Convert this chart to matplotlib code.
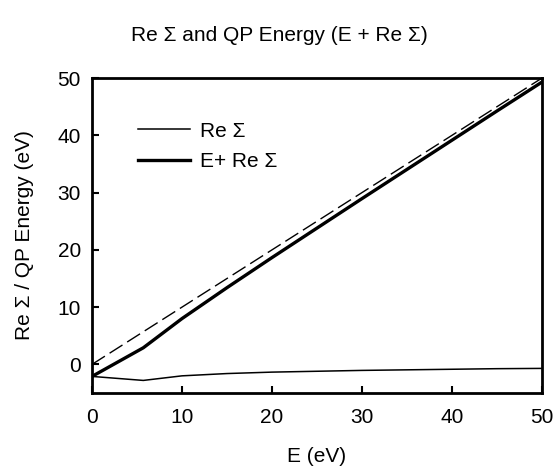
import matplotlib
matplotlib.use("Agg")
import matplotlib.pyplot as plt

# values
energy = [0, 5.7, 10, 15, 20, 25, 30, 35, 40, 45, 50]
re_sigma = [-2.1, -2.8, -2.0, -1.6, -1.35, -1.2, -1.05, -0.95, -0.85, -0.75, -0.7]
qp_energy = [-2.1, 2.9, 8.0, 13.4, 18.65, 23.8, 28.95, 34.05, 39.15, 44.25, 49.3]
diag = [0, 50]

plt.rcParams['font.family'] = ['Liberation Sans', 'DejaVu Sans']

fig = plt.figure(figsize=(5.59, 4.69), dpi=100)
ax = fig.add_axes([0.1646, 0.162, 0.805, 0.6716])

ax.plot(energy, re_sigma, color='black', linewidth=1.1, label='Re Σ')
ax.plot(energy, qp_energy, color='black', linewidth=2.4, label='E+ Re Σ')
ax.plot(diag, diag, color='black', linewidth=1.0, dashes=(11, 4))

ax.set_xlim(0, 50)
ax.set_ylim(-5, 50)
ax.set_xticks([0, 10, 20, 30, 40, 50])
ax.set_yticks([0, 10, 20, 30, 40, 50])
ax.tick_params(direction='in', length=5, width=1.5, labelsize=15)
ax.tick_params(axis='x', pad=11)
ax.tick_params(axis='y', pad=8)
for s in ax.spines.values():
    s.set_linewidth(2)

ax.set_xlabel('E (eV)', fontsize=15, labelpad=14)
ax.set_ylabel('Re Σ / QP Energy (eV)', fontsize=15, labelpad=17)
fig.text(0.5, 0.925, 'Re Σ and QP Energy (E + Re Σ)', ha='center', va='center', fontsize=15)

ax.legend(loc='upper left', bbox_to_anchor=(0.102, 0.862), frameon=False, fontsize=15,
          handlelength=2.5, handletextpad=0.5, labelspacing=0.55,
          borderpad=0, borderaxespad=0)

fig.savefig('out.png', dpi=100)
